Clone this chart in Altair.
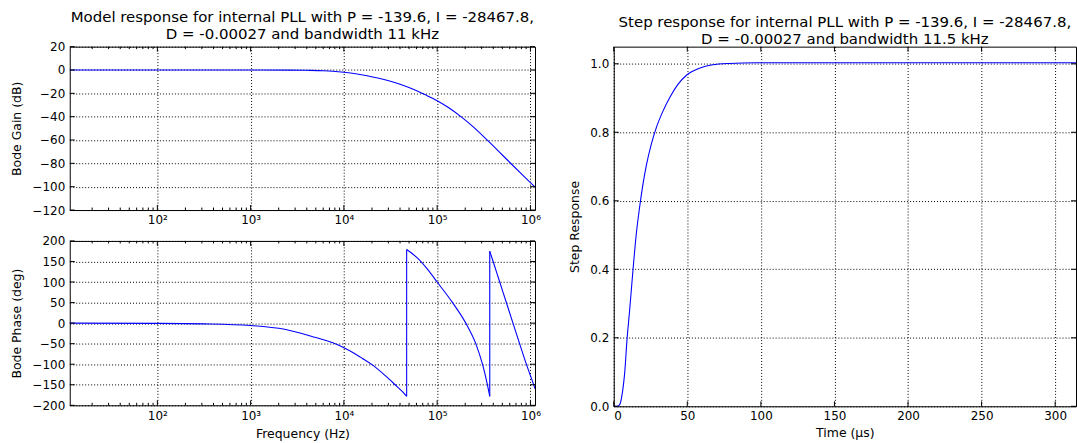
import altair as alt
import pandas as pd

FONT = "DejaVu Sans"
BLUE = "#0000ff"

# ---------------- data ----------------
# Bode gain: log10(frequency / Hz) and gain in dB
gain_logf = [1.06, 2.0, 3.0, 3.43, 3.6, 3.786, 4.0, 4.125, 4.25, 4.375, 4.5, 4.625,
             4.75, 4.875, 5.0, 5.125, 5.255, 5.375, 5.535, 5.66, 5.785, 5.92, 6.05]
gain_db = [0.0, 0.0, -0.05, -0.1, -0.25, -0.6, -2.0, -3.2, -4.9, -7.1, -9.7, -12.8,
           -16.7, -21.3, -26.3, -32.4, -40.0, -47.9, -59.9, -69.7, -79.7, -90.3, -100.4]

# Bode phase: log10(frequency / Hz) and phase in degrees (wraps at +-180)
phase_logf = [1.06, 2.0, 2.5, 3.0, 3.365, 3.65, 3.882, 4.0, 4.1, 4.2, 4.32, 4.45, 4.55, 4.62,
              4.673, 4.6731, 4.79, 4.9, 5.0, 5.165, 5.307, 5.414, 5.486, 5.539, 5.564,
              5.5641, 5.603, 5.664, 5.735, 5.806, 5.877, 5.949, 6.038, 6.05]
phase_deg = [0.0, -0.6, -1.8, -5.7, -15.0, -32.0, -48.0, -60.0, -72.0, -86.0, -104.0, -129.0,
             -150.0, -165.0, -178.0, 179.0, 158.0, 130.0, 100.0, 50.0, 0.0, -50.0, -100.0,
             -150.0, -178.0, 175.0, 148.0, 105.0, 55.0, 5.0, -45.0, -95.0, -152.0, -160.0]

# Step response: time in microseconds and response
step_t = [0.0, 2.26, 4.06, 5.86, 7.44, 9.02, 10.83, 13.08, 15.34, 17.59, 19.85, 22.1,
          25.5, 28.9, 33.4, 37.9, 43.5, 49.8, 58.2, 67.2, 78.5, 96.5, 150.0, 200.0,
          250.0, 314.16]
step_y = [0.0, 0.0, 0.005, 0.039, 0.097, 0.194, 0.281, 0.397, 0.503, 0.581, 0.648, 0.702,
          0.765, 0.813, 0.861, 0.900, 0.939, 0.968, 0.987, 0.997, 1.001, 1.003, 1.003, 1.003,
          1.003, 1.003]

# tick labels / positions
freq_major = [1e2, 1e3, 1e4, 1e5, 1e6]
FREQ_DOMAIN = [11.5, 1.12e6]
freq_minor = [m * 10 ** k for k in range(1, 6) for m in range(2, 10)]
freq_minor = [v for v in freq_minor if FREQ_DOMAIN[0] <= v <= FREQ_DOMAIN[1]]
gain_ticks = [-120, -100, -80, -60, -40, -20, 0, 20]
phase_ticks = [-200, -150, -100, -50, 0, 50, 100, 150, 200]
time_ticks = [0, 50, 100, 150, 200, 250, 300]
resp_ticks = [0.0, 0.2, 0.4, 0.6, 0.8, 1.0]

GAIN_DOMAIN = [-120, 20]
PHASE_DOMAIN = [-200, 200]
TIME_DOMAIN = [0, 314.16]
RESP_DOMAIN = [0, 1.05]

title_left = ["Model response for internal PLL with P = -139.6, I = -28467.8,",
              "D = -0.00027 and bandwidth 11 kHz"]
title_right = ["Step response for internal PLL with P = -139.6, I = -28467.8,",
               "D = -0.00027 and bandwidth 11.5 kHz"]

# ---------------- layout sizes ----------------
W_L, H_G, H_P = 467, 164, 165
W_R, H_R = 464, 361
MAJ, MIN = 5, 2.5

log_label = "'10' + ['⁰','¹','²','³','⁴','⁵','⁶'][round(log(datum.value) / LN10)]"
minus_label = "replace(datum.label, '-', '−')"


def split_segments(xs, ys, jump=300):
    """Split a wrapped phase trace into smooth pieces plus the vertical wrap connectors."""
    rows, seg, start = [], 0, 0
    for i in range(1, len(ys) + 1):
        if i == len(ys) or abs(ys[i] - ys[i - 1]) > jump:
            for j in range(start, i):
                rows.append({"seg": seg, "o": j, "logf": xs[j], "val": ys[j]})
            seg += 1
            if i < len(ys):
                rows.append({"seg": seg, "o": 0, "logf": xs[i - 1], "val": ys[i - 1]})
                rows.append({"seg": seg, "o": 1, "logf": xs[i], "val": ys[i]})
                seg += 1
            start = i
    return rows


def tick_rules(xfield, xscale, xaxis, yfield, yscale, yaxis, xvals, yvals, W, H, L):
    out = []
    if xvals:
        df = pd.DataFrame({xfield: xvals})
        enc = alt.X(f"{xfield}:Q", scale=xscale, axis=xaxis)
        out.append(alt.Chart(df).mark_rule(color="black", strokeWidth=1).encode(
            x=enc, y=alt.value(H), y2=alt.value(H - L)))
        out.append(alt.Chart(df).mark_rule(color="black", strokeWidth=1).encode(
            x=enc, y=alt.value(0), y2=alt.value(L)))
    if yvals:
        df = pd.DataFrame({yfield: yvals})
        enc = alt.Y(f"{yfield}:Q", scale=yscale, axis=yaxis)
        out.append(alt.Chart(df).mark_rule(color="black", strokeWidth=1).encode(
            y=enc, x=alt.value(0), x2=alt.value(L)))
        out.append(alt.Chart(df).mark_rule(color="black", strokeWidth=1).encode(
            y=enc, x=alt.value(W - L), x2=alt.value(W)))
    return out


fx = alt.Scale(type="log", domain=FREQ_DOMAIN, nice=False)

# ---------------- gain ----------------
gy = alt.Scale(domain=GAIN_DOMAIN, nice=False)
gx_axis = alt.Axis(values=freq_major, labelExpr=log_label, title=None, labelPadding=5)
gy_axis = alt.Axis(values=gain_ticks, title="Bode Gain (dB)", labelExpr=minus_label)
gain_df = pd.DataFrame({"freq": [10 ** v for v in gain_logf], "gain": gain_db})
gain_line = alt.Chart(gain_df).mark_line(
    color=BLUE, strokeWidth=1.1, clip=True, interpolate="monotone").encode(
    x=alt.X("freq:Q", scale=fx, axis=gx_axis),
    y=alt.Y("gain:Q", scale=gy, axis=gy_axis),
)
gain = alt.layer(
    gain_line,
    *tick_rules("freq", fx, gx_axis, "gain", gy, gy_axis, freq_major, gain_ticks, W_L, H_G, MAJ),
    *tick_rules("freq", fx, gx_axis, "gain", gy, gy_axis, freq_minor, [], W_L, H_G, MIN),
).properties(width=W_L, height=H_G, title=alt.Title(title_left))

# ---------------- phase ----------------
py = alt.Scale(domain=PHASE_DOMAIN, nice=False)
px_axis = alt.Axis(values=freq_major, labelExpr=log_label, title="Frequency (Hz)",
                   labelPadding=5, titlePadding=6)
py_axis = alt.Axis(values=phase_ticks, title="Bode Phase (deg)", labelExpr=minus_label)
phase_rows = split_segments(phase_logf, phase_deg)
phase_df = pd.DataFrame({
    "freq": [10 ** r["logf"] for r in phase_rows],
    "phase": [r["val"] for r in phase_rows],
    "seg": [r["seg"] for r in phase_rows],
    "o": [r["o"] for r in phase_rows],
})
phase_line = alt.Chart(phase_df).mark_line(
    color=BLUE, strokeWidth=1.1, clip=True, interpolate="monotone").encode(
    x=alt.X("freq:Q", scale=fx, axis=px_axis),
    y=alt.Y("phase:Q", scale=py, axis=py_axis),
    detail="seg:N",
    order="o:Q",
)
phase = alt.layer(
    phase_line,
    *tick_rules("freq", fx, px_axis, "phase", py, py_axis, freq_major, phase_ticks, W_L, H_P, MAJ),
    *tick_rules("freq", fx, px_axis, "phase", py, py_axis, freq_minor, [], W_L, H_P, MIN),
).properties(width=W_L, height=H_P)

# ---------------- step ----------------
tx = alt.Scale(domain=TIME_DOMAIN, nice=False)
sy = alt.Scale(domain=RESP_DOMAIN, nice=False)
sx_axis = alt.Axis(values=time_ticks, title="Time (μs)", labelPadding=4, titlePadding=5)
sy_axis = alt.Axis(values=resp_ticks, format=".1f", title="Step Response")
step_df = pd.DataFrame({"t": step_t, "resp": step_y})
step_line = alt.Chart(step_df).mark_line(
    color=BLUE, strokeWidth=1.1, clip=True, interpolate="monotone").encode(
    x=alt.X("t:Q", scale=tx, axis=sx_axis),
    y=alt.Y("resp:Q", scale=sy, axis=sy_axis),
)
step = alt.layer(
    step_line,
    *tick_rules("t", tx, sx_axis, "resp", sy, sy_axis, time_ticks, resp_ticks, W_R, H_R, MAJ),
).properties(width=W_R, height=H_R, title=alt.Title(title_right))

left = alt.vconcat(gain, phase, spacing=7)
chart = alt.hconcat(left, step, spacing=27).properties(
    padding={"left": 10, "top": 8, "right": 0, "bottom": 0},
    background="white",
).configure_axis(
    labelFont=FONT, labelFontSize=12, labelColor="black",
    titleFont=FONT, titleFontSize=12.5, titleFontWeight="normal", titleColor="black",
    domain=False, ticks=False, grid=True, gridColor="black", gridDash=[1, 2],
    gridWidth=1, gridOpacity=1, labelPadding=5, titlePadding=8,
).configure_view(
    stroke="black", strokeWidth=1,
).configure_title(
    font=FONT, fontSize=15, fontWeight="normal", color="black", anchor="middle",
    offset=-1, lineHeight=17,
)

chart.save("out.html", embed_options={"renderer": "svg", "actions": False})
